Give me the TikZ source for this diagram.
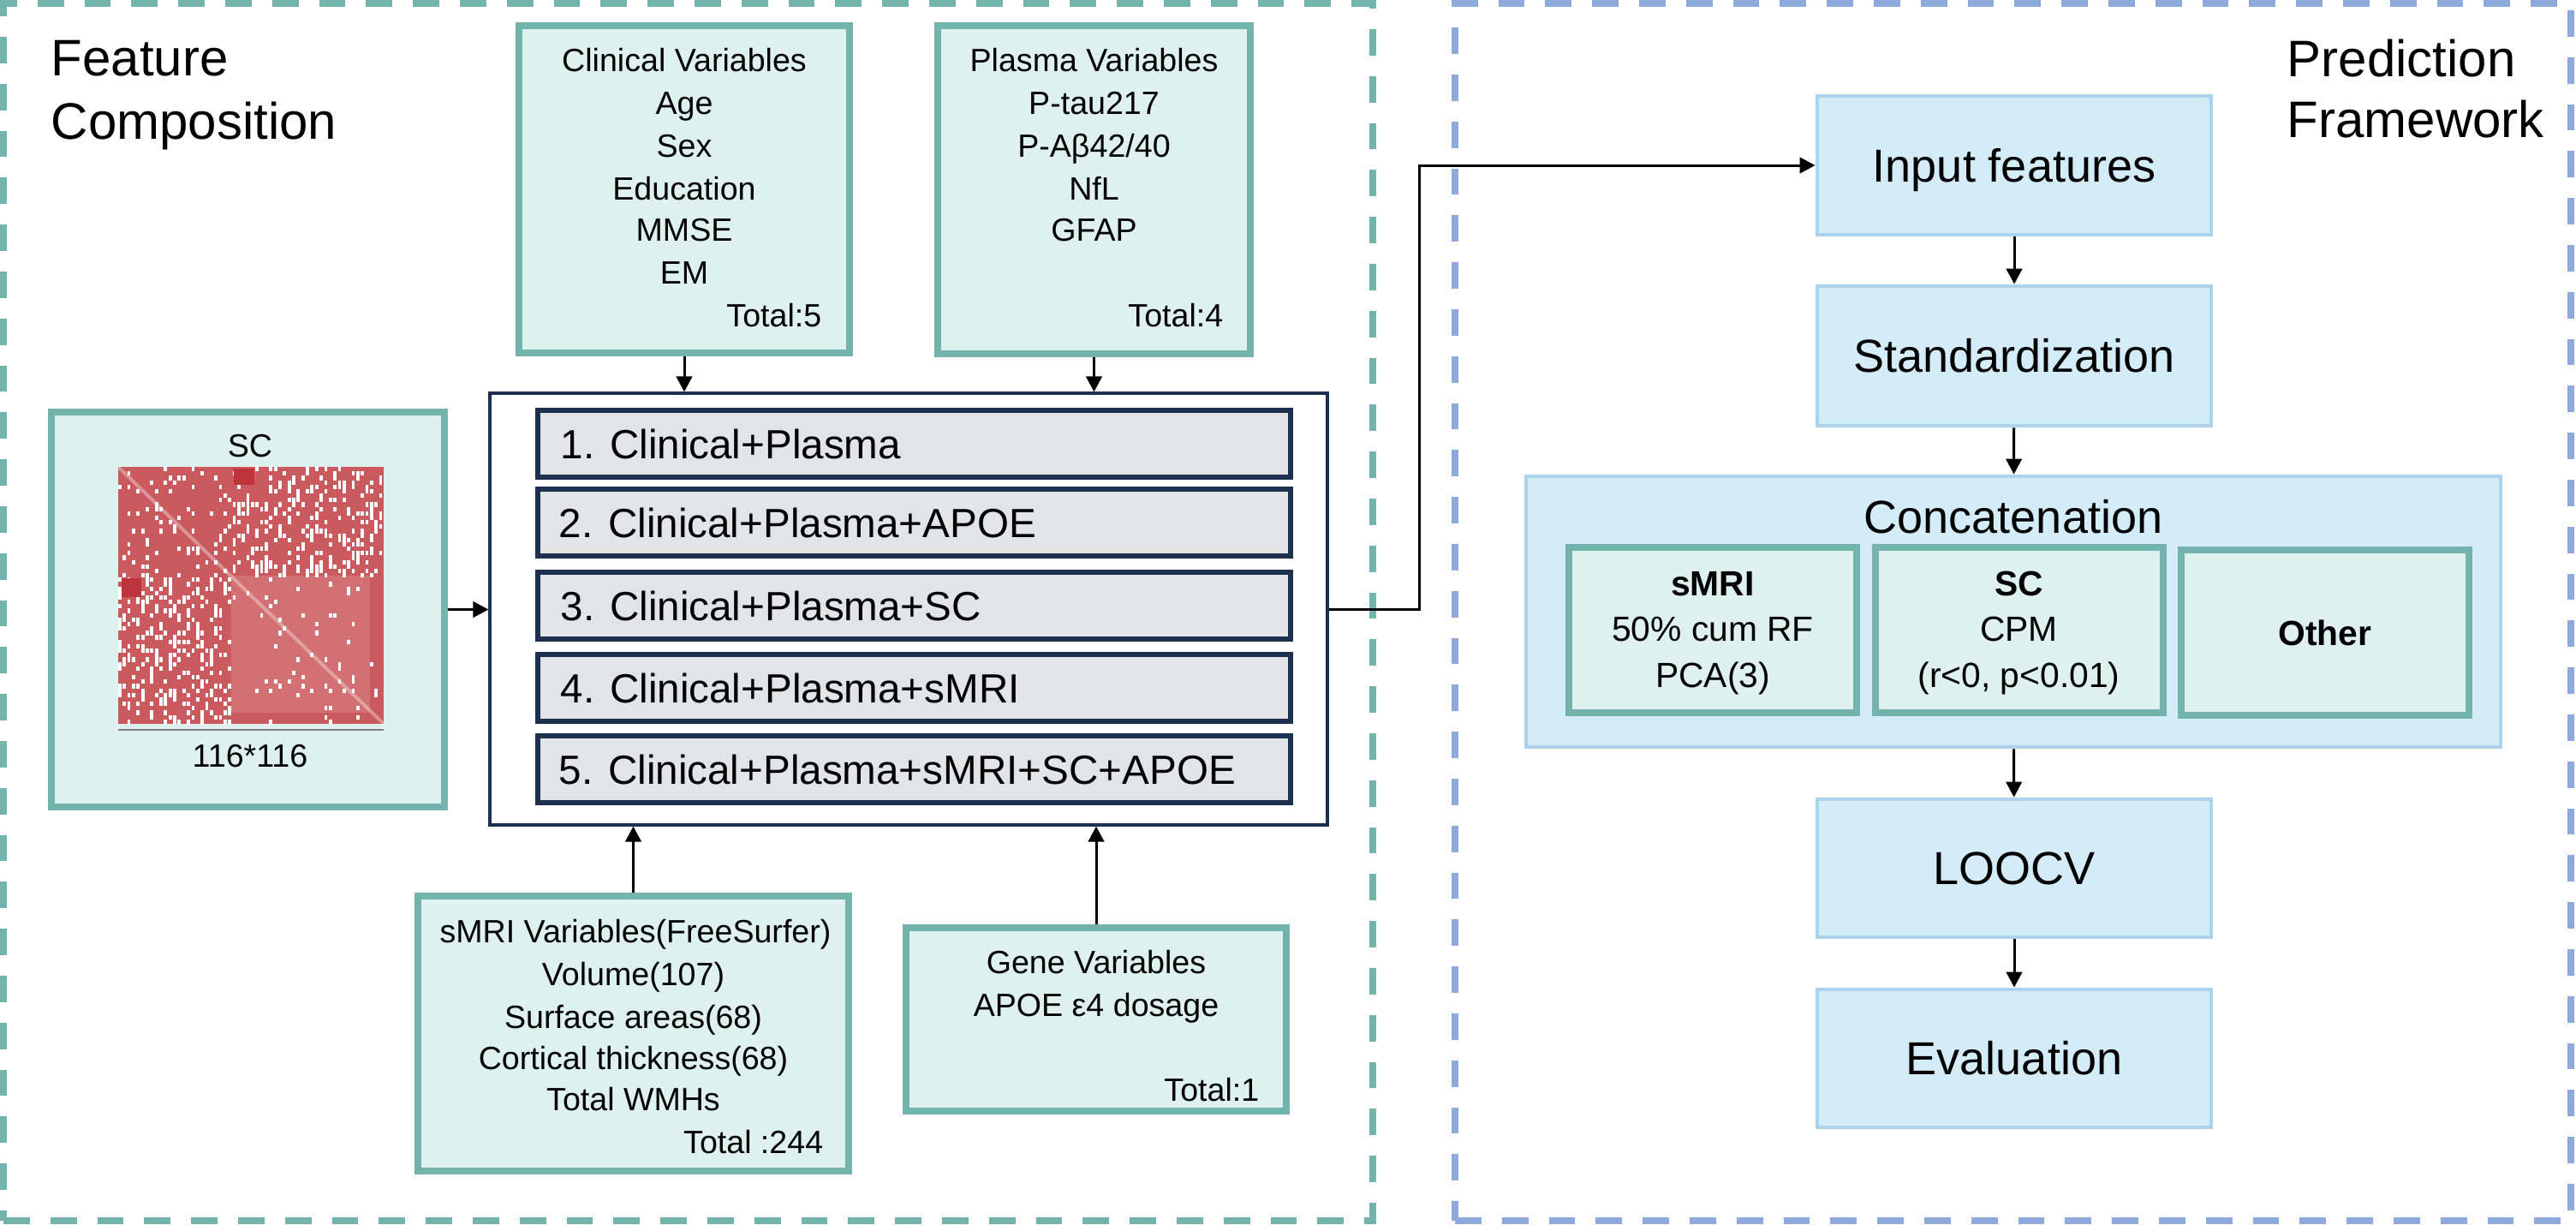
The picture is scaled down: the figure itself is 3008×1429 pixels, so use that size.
\documentclass[tikz,border=0pt]{standalone}
\usepackage{fontspec}
\setmainfont{Liberation Sans}
\usetikzlibrary{arrows.meta}
\definecolor{tealB}{RGB}{114,180,172}
\definecolor{tealF}{RGB}{223,241,238}
\definecolor{navyB}{RGB}{30,48,80}
\definecolor{grayF}{RGB}{227,228,230}
\definecolor{blueF}{RGB}{211,236,248}
\definecolor{blueB}{RGB}{172,210,236}
\definecolor{blueD}{RGB}{142,170,220}
\definecolor{mred}{RGB}{202,90,94}
\definecolor{mlight}{RGB}{210,112,115}
\definecolor{mdark}{RGB}{190,52,58}
\newcommand\fsBody{\fontsize{9.4}{11}\selectfont}
\newcommand\fsOpt{\fontsize{11.9}{14}\selectfont}
\newcommand\fsStep{\fontsize{13.5}{16}\selectfont}
\newcommand\fsTitle{\fontsize{15}{18}\selectfont}
\newcommand\fsSub{\fontsize{10.2}{12}\selectfont}
\tikzset{
  tealbox/.style={draw=tealB, fill=tealF, line width=1.8pt, inner sep=0pt},
  optbox/.style={draw=navyB, fill=grayF, line width=1.3pt, inner sep=0pt, minimum width=219.75pt, minimum height=19.5pt},
  bluebox/.style={draw=blueB, fill=blueF, line width=1.2pt, inner sep=0pt, font=\fsStep, text height=9.7pt, text depth=0pt},
  stepbox/.style={bluebox, minimum width=115pt, minimum height=40.5pt},
  subbox/.style={draw=tealB, fill=tealF, line width=2pt, inner sep=0pt, minimum width=84pt, minimum height=48.25pt},
  btext/.style={font=\fsBody, inner sep=0pt, text height=6.7pt, text depth=0pt},
  otext/.style={font=\fsOpt, inner sep=0pt, text height=8.5pt, text depth=0pt, anchor=west},
  stext/.style={font=\fsSub, inner sep=0pt, text height=7.3pt, text depth=0pt},
  ttext/.style={font=\fsTitle, inner sep=0pt, anchor=base west},
  arr/.style={line width=0.75pt, -{Triangle[length=4.5pt,width=4.6pt]}},
  panel/.style={line width=1.9pt, dash pattern=on 7.7pt off 6pt, inner sep=0pt},
}
\begin{document}
\begin{tikzpicture}[x=0.25pt,y=-0.25pt]
\useasboundingbox (0,0) rectangle (3008,1429);
% panels
\node[panel, draw=tealB, minimum width=399.75pt, minimum height=355.25pt] (panL) at (803.5,714.5) {};
\node[panel, draw=blueD, minimum width=325.75pt, minimum height=355.25pt] (panR) at (2350.5,714.5) {};
\node[ttext] (tfeat) at (59,88) {Feature};
\node[ttext] (tcomp) at (59,162) {Composition};
\node[ttext] (tpred) at (2670,89) {Prediction};
\node[ttext] (tfram) at (2670,160) {Framework};

% clinical
\node[tealbox, minimum width=96.5pt, minimum height=95.5pt] (clin) at (799,221) {};
\node[btext] (clin1) at (799,70) {Clinical Variables};
\node[btext] (clin2) at (799,120) {Age};
\node[btext] (clin3) at (799,170) {Sex};
\node[btext] (clin4) at (799,220) {Education};
\node[btext] (clin5) at (799,268) {MMSE};
\node[btext] (clin6) at (799,318) {EM};
\node[btext, anchor=east] (clin7) at (960,368) {Total:5};

% plasma
\node[tealbox, minimum width=91.25pt, minimum height=95.75pt] (plas) at (1277.5,221.5) {};
\node[btext] (plas1) at (1277.5,70) {Plasma Variables};
\node[btext] (plas2) at (1277.5,120) {P-tau217};
\node[btext] (plas3) at (1277.5,170) {P-Aβ42/40};
\node[btext] (plas4) at (1277.5,220) {NfL};
\node[btext] (plas5) at (1277.5,268) {GFAP};
\node[btext, anchor=east] (plas6) at (1429,368) {Total:4};

% SC
\node[tealbox, minimum width=114.75pt, minimum height=115.25pt] (scbox) at (289.5,711.5) {};
\node[btext] (sclab) at (292,520) {SC};
\node[btext] (scdim) at (292,882) {116*116};
\begin{scope}
\fill[mred] (138,545) rectangle (448,845);
\fill[mlight] (270,672) rectangle (432,832);
\pgfmathsetseed{11}
\foreach \i in {0,...,57}{
  \foreach \j in {0,...,57}{
    \pgfmathsetmacro{\pr}{ifthenelse(\i<25, ifthenelse(\j<25,0.10,0.30), ifthenelse(\j<25,0.30,0.05))}
    \pgfmathsetmacro{\rv}{rnd}
    \ifdim\rv pt<\pr pt
      \fill[white] ({138+\i*5.345},{545+\j*5.17}) rectangle ++(3.8,5.2);
    \fi
  }
}
\fill[mdark] (273,547) rectangle (297,566);
\fill[mdark] (142,675) rectangle (165,697);
\draw[white, opacity=0.35, line width=1pt] (138,545) -- (448,845);
\draw[gray, line width=0.4pt] (138,852) -- (448,852);
\end{scope}

% central
\node[draw=navyB, fill=white, line width=0.8pt, minimum width=244.5pt, minimum height=126pt, inner sep=0pt] (central) at (1061,711) {};
\node[optbox] (opt1) at (1067.5,518) {};
\node[optbox] (opt2) at (1067.5,610) {};
\node[optbox] (opt3) at (1067.5,707) {};
\node[optbox] (opt4) at (1067.5,803) {};
\node[optbox] (opt5) at (1067.5,898) {};
\node[otext] (o1) at (654,518) {1. Clinical+Plasma};
\node[otext] (o2) at (652,610) {2. Clinical+Plasma+APOE};
\node[otext] (o3) at (654,707) {3. Clinical+Plasma+SC};
\node[otext] (o4) at (654,803) {4. Clinical+Plasma+sMRI};
\node[otext] (o5) at (652,898) {5. Clinical+Plasma+sMRI+SC+APOE};

% sMRI
\node[tealbox, minimum width=125.75pt, minimum height=80.25pt] (smri) at (739.5,1206.5) {};
\node[btext] (sm1) at (742,1087) {sMRI Variables(FreeSurfer)};
\node[btext] (sm2) at (739.5,1137) {Volume(107)};
\node[btext] (sm3) at (739.5,1187) {Surface areas(68)};
\node[btext] (sm4) at (739.5,1235) {Cortical thickness(68)};
\node[btext] (sm5) at (739.5,1283) {Total WMHs};
\node[btext, anchor=east] (sm6) at (962,1333) {Total :244};

% gene
\node[tealbox, minimum width=111pt, minimum height=53.5pt] (gene) at (1280,1190) {};
\node[btext] (ge1) at (1280,1123) {Gene Variables};
\node[btext] (ge2) at (1280,1173) {APOE ε4 dosage};
\node[btext, anchor=east] (ge3) at (1471,1272) {Total:1};

% arrows left
\draw[arr] (clin.south) -- (clin.south |- central.north);
\draw[arr] (plas.south) -- (plas.south |- central.north);
\draw[arr] (scbox.east) -- (scbox.east -| central.west);
\draw[arr] (smri.north) -- (smri.north |- central.south);
\draw[arr] (gene.north) -- (gene.north |- central.south);

% right side
\node[stepbox] (inp) at (2352,193) {Input features};
\node[stepbox, minimum height=40.75pt] (std) at (2352,415.5) {Standardization};
\node[bluebox, minimum width=284.5pt, minimum height=79pt] (concat) at (2351,714) {};
\node[font=\fsStep, inner sep=0pt, text height=9.7pt, text depth=0pt] (concatT) at (2351,603) {Concatenation};
\node[subbox] (subA) at (2000,735.5) {};
\node[subbox] (subB) at (2357.5,735.5) {};
\node[subbox] (subC) at (2715,738.5) {};
\node[stext, font=\fsSub\bfseries] (sa1) at (2000,681) {sMRI};
\node[stext] (sa2) at (2000,734) {50\% cum RF};
\node[stext] (sa3) at (2000,788) {PCA(3)};
\node[stext, font=\fsSub\bfseries] (sb1) at (2357.5,681) {SC};
\node[stext] (sb2) at (2357.5,734) {CPM};
\node[stext] (sb3) at (2357.5,788) {(r<0, p<0.01)};
\node[stext, font=\fsSub\bfseries] (sc1) at (2715,739) {Other};
\node[stepbox, minimum height=40.25pt] (loocv) at (2352,1013.5) {LOOCV};
\node[stepbox, minimum height=40.25pt] (evalb) at (2352,1235.5) {Evaluation};

\coordinate (bend) at (1657,711);
\draw[arr] (central.east) -- (bend) |- (inp.west);
\draw[arr] (inp) -- (std);
\draw[arr] (std) -- (concat);
\draw[arr] (concat) -- (loocv);
\draw[arr] (loocv) -- (evalb);
\end{tikzpicture}
\end{document}
